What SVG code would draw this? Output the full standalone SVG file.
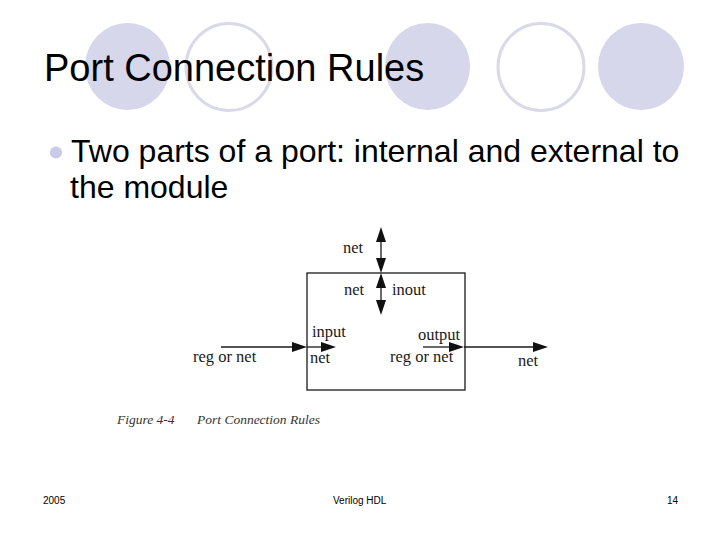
<svg xmlns="http://www.w3.org/2000/svg" width="720" height="540" viewBox="0 0 720 540">
<style>
.deco-f{fill:#d7d7eb;stroke:none}
.deco-o{fill:none;stroke:#d9d9e8;stroke-width:3}
.title{font-family:"Liberation Sans",Arial,sans-serif;font-size:38px;fill:#000}
.body{font-family:"Liberation Sans",Arial,sans-serif;font-size:32px;fill:#000}
.foot{font-family:"Liberation Sans",Arial,sans-serif;font-size:10px;fill:#000}
.lbl{font-family:"Liberation Serif","Times New Roman",serif;font-size:16.5px;fill:#1a1a1a}
.cap{font-family:"Liberation Serif","Times New Roman",serif;font-size:13.5px;font-style:italic;fill:#333}
.wire{stroke:#1a1a1a;stroke-width:1.3;fill:none}
.box{stroke:#1a1a1a;stroke-width:1.3;fill:none}
.head{fill:#111;stroke:none}
</style>
<rect width="720" height="540" fill="#fff"/>
<g id="decoration">
<ellipse class="deco-f" cx="127.5" cy="66.5" rx="42.5" ry="43.5"/>
<ellipse class="deco-o" cx="229" cy="67" rx="43" ry="43.5"/>
<ellipse class="deco-f" cx="427.5" cy="66.5" rx="42.5" ry="43.5"/>
<ellipse class="deco-o" cx="541" cy="67" rx="43" ry="43.5"/>
<ellipse class="deco-f" cx="641" cy="66.5" rx="43" ry="43.5"/>
</g>
<text class="title" x="44" y="81">Port Connection Rules</text>
<g id="bullet">
<circle cx="56" cy="152.5" r="6" fill="#c9c9ea"/>
<text class="body" x="71" y="162">Two parts of a port: internal and external to</text>
<text class="body" x="70" y="198">the module</text>
</g>
<g id="module">
<rect class="box" x="307" y="273" width="158" height="117"/>
</g>
<g id="connectors">
<line class="wire" x1="381" y1="235" x2="381" y2="265"/>
<polygon class="head" points="381,227 376,242 386,242"/>
<polygon class="head" points="381,273 376,258 386,258"/>
<line class="wire" x1="381" y1="281" x2="381" y2="308"/>
<polygon class="head" points="381,273 376,288 386,288"/>
<polygon class="head" points="381,315 376,300 386,300"/>
<line class="wire" x1="221" y1="347" x2="296" y2="347"/>
<polygon class="head" points="307,347 292,342 292,352"/>
<line class="wire" x1="307" y1="347" x2="324" y2="347"/>
<polygon class="head" points="336,347 321,342 321,352"/>
<line class="wire" x1="423" y1="347" x2="452" y2="347"/>
<polygon class="head" points="464,347 449,342 449,352"/>
<line class="wire" x1="464" y1="347" x2="537" y2="347"/>
<polygon class="head" points="548,347 533,342 533,352"/>
</g>
<g id="labels">
<text class="lbl" x="343" y="253">net</text>
<text class="lbl" x="344" y="295">net</text>
<text class="lbl" x="392" y="295">inout</text>
<text class="lbl" x="312" y="337">input</text>
<text class="lbl" x="310" y="363">net</text>
<text class="lbl" x="193" y="362">reg or net</text>
<text class="lbl" x="418" y="340">output</text>
<text class="lbl" x="390" y="362">reg or net</text>
<text class="lbl" x="518" y="366">net</text>
</g>
<text class="cap" x="117" y="424">Figure 4-4</text>
<text class="cap" x="197" y="424">Port Connection Rules</text>
<g id="footer">
<text class="foot" x="43" y="504">2005</text>
<text class="foot" x="333" y="504">Verilog HDL</text>
<text class="foot" x="667" y="504">14</text>
</g>
</svg>
